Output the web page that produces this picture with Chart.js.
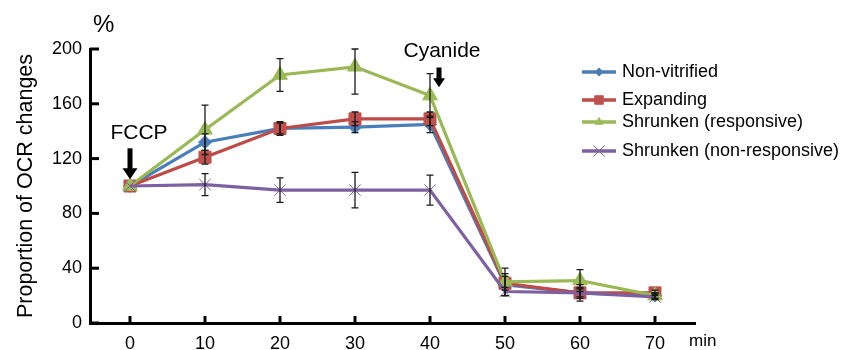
<!DOCTYPE html>
<html>
<head>
<meta charset="utf-8">
<script src="https://cdn.jsdelivr.net/npm/chart.js@4.4.1/dist/chart.umd.min.js"></script>
<style>
  html, body { margin: 0; padding: 0; background: #fff; }
  #wrap { width: 844px; height: 350px; }
</style>
</head>
<body>
<div id="wrap"><canvas id="c" width="844" height="350"></canvas></div>
<script>
// data
const minutes = [0, 10, 20, 30, 40, 50, 60, 70];
const xTicks = [0, 10, 20, 30, 40, 50, 60, 70];
const yTicks = [0, 40, 80, 120, 160, 200];

const nonVitrified    = [100, 132, 142, 143, 145, 28, 22, 20];
const expanding       = [100, 121, 142, 149, 149, 29, 22, 22];
const shrunkenResp    = [100, 141, 181, 187, 166, 30, 31, 20];
const shrunkenNonResp = [100, 101, 97, 97, 97, 23, 22, 19];

const errNonVitrified    = [0, 6, 5, 4, 6, 8, 4, 2];
const errExpanding       = [0, 5, 4, 5, 5, 5, 6, 2];
const errShrunkenResp    = [0, 18, 12, 20, 16, 10, 8, 2];
const errShrunkenNonResp = [0, 8, 9, 13, 11, 3, 3, 2];

const FONT = '"Liberation Sans", Arial, Helvetica, sans-serif';

const xy = (vals) => vals.map((v, i) => ({ x: minutes[i], y: v }));

const inwardTicks = {
  id: 'inwardTicks',
  afterDraw(chart) {
    const { ctx, scales: { x, y }, chartArea } = chart;
    ctx.save();
    ctx.strokeStyle = '#000';
    ctx.lineWidth = 3;
    yTicks.forEach(v => {
      const py = y.getPixelForValue(v);
      ctx.beginPath(); ctx.moveTo(chartArea.left, py); ctx.lineTo(chartArea.left + 9, py); ctx.stroke();
    });
    xTicks.forEach(v => {
      const px = x.getPixelForValue(v);
      ctx.beginPath(); ctx.moveTo(px, chartArea.bottom - 7); ctx.lineTo(px, chartArea.bottom + 2); ctx.stroke();
    });
    ctx.fillStyle = '#000';
    ctx.font = '24px ' + FONT;
    ctx.textBaseline = 'middle';
    ctx.textAlign = 'left';
    ctx.fillText('%', 93, 25);
    ctx.font = '17px ' + FONT;
    ctx.fillText('min', 689, 341);
    ctx.restore();
  }
};

const errorBars = {
  id: 'errorBars',
  afterDatasetsDraw(chart) {
    const { ctx, scales: { x, y }, chartArea } = chart;
    ctx.save();
    ctx.strokeStyle = '#1a1a1a';
    ctx.lineWidth = 1.3;
    chart.data.datasets.forEach(ds => {
      ds.data.forEach((p, i) => {
        const e = ds.errors[i];
        if (!e) return;
        const px = x.getPixelForValue(p.x);
        const top = Math.max(y.getPixelForValue(p.y + e), chartArea.top);
        const bot = y.getPixelForValue(p.y - e);
        ctx.beginPath();
        ctx.moveTo(px, top); ctx.lineTo(px, bot);
        ctx.moveTo(px - 3.5, top); ctx.lineTo(px + 3.5, top);
        ctx.moveTo(px - 3.5, bot); ctx.lineTo(px + 3.5, bot);
        ctx.stroke();
      });
    });
    ctx.restore();
  }
};

function arrow(ctx, x, y0, y1, w, headH) {
  ctx.fillRect(x - 2.5, y0, 5, y1 - y0 - headH + 1);
  ctx.beginPath();
  ctx.moveTo(x - w / 2, y1 - headH);
  ctx.lineTo(x + w / 2, y1 - headH);
  ctx.lineTo(x, y1);
  ctx.closePath();
  ctx.fill();
}

const notes = {
  id: 'notes',
  afterDraw(chart) {
    const { ctx, scales: { x, y } } = chart;
    ctx.save();
    ctx.fillStyle = '#000';
    ctx.font = '21px ' + FONT;
    ctx.textAlign = 'center';
    ctx.textBaseline = 'alphabetic';
    ctx.fillText('FCCP', x.getPixelForValue(1.2), y.getPixelForValue(134));
    arrow(ctx, x.getPixelForValue(0), y.getPixelForValue(127.5), y.getPixelForValue(105), 15, 11);
    ctx.fillText('Cyanide', x.getPixelForValue(41.6), y.getPixelForValue(194));
    arrow(ctx, x.getPixelForValue(41.2), y.getPixelForValue(186.5), y.getPixelForValue(172), 12, 9);
    ctx.restore();
  }
};

const legendBox = {
  id: 'legendBox',
  afterDraw(chart) {
    const { ctx } = chart;
    const rows = [72, 100, 122, 151];
    ctx.save();
    ctx.font = '18px ' + FONT;
    ctx.textBaseline = 'middle';
    ctx.textAlign = 'left';
    chart.data.datasets.forEach((ds, i) => {
      const yy = rows[i];
      ctx.strokeStyle = ds.borderColor;
      ctx.lineWidth = 3.5;
      ctx.beginPath(); ctx.moveTo(582, yy); ctx.lineTo(616, yy); ctx.stroke();
      ctx.fillStyle = ds.pointBackgroundColor;
      ctx.strokeStyle = ds.pointBorderColor;
      ctx.lineWidth = 1;
      Chart.helpers.drawPoint(ctx, { pointStyle: ds.pointStyle, radius: ds.legendRadius, rotation: 0, borderWidth: 1 }, 599, yy);
      ctx.fillStyle = '#000';
      ctx.fillText(ds.label, 622, yy);
    });
    ctx.restore();
  }
};

new Chart(document.getElementById('c'), {
  type: 'line',
  data: {
    datasets: [
      { label: 'Non-vitrified', data: xy(nonVitrified), errors: errNonVitrified,
        borderColor: '#4a7ebb', pointBackgroundColor: '#4a7ebb', pointBorderColor: '#4a7ebb',
        pointStyle: 'rectRot', pointRadius: 6.5, legendRadius: 4, pointBorderWidth: 1, order: 4 },
      { label: 'Expanding', data: xy(expanding), errors: errExpanding,
        borderColor: '#be4b48', pointBackgroundColor: '#c0504d', pointBorderColor: '#c0504d',
        pointStyle: 'rect', pointRadius: 8.5, legendRadius: 6, pointBorderWidth: 1, order: 3 },
      { label: 'Shrunken (responsive)', data: xy(shrunkenResp), errors: errShrunkenResp,
        borderColor: '#98b954', pointBackgroundColor: '#9bbb59', pointBorderColor: '#9bbb59',
        pointStyle: 'triangle', pointRadius: 8.5, legendRadius: 4.5, pointBorderWidth: 1, order: 2 },
      { label: 'Shrunken (non-responsive)', data: xy(shrunkenNonResp), errors: errShrunkenNonResp,
        borderColor: '#7d60a0', pointBackgroundColor: '#7d60a0', pointBorderColor: '#7d60a0',
        pointStyle: 'crossRot', pointRadius: 8, legendRadius: 8, pointBorderWidth: 1, order: 1 }
    ]
  },
  options: {
    responsive: false,
    animation: false,
    layout: { padding: { top: 49, right: 149, left: 0, bottom: 0 } },
    elements: { line: { borderWidth: 3.2, tension: 0 } },
    plugins: { legend: { display: false }, tooltip: { enabled: false } },
    scales: {
      x: {
        type: 'linear', min: -16 / 3, max: 226 / 3,
        afterBuildTicks: s => { s.ticks = xTicks.map(v => ({ value: v })); },
        afterFit: s => { s.height = 27; },
        grid: { display: false, drawTicks: false },
        border: { display: true, color: '#000', width: 3 },
        ticks: { padding: 10, color: '#000', font: { family: FONT, size: 18 } }
      },
      y: {
        min: 0, max: 200,
        afterBuildTicks: s => { s.ticks = yTicks.map(v => ({ value: v })); },
        afterFit: s => { s.width = 90; },
        grid: { display: false, drawTicks: false },
        border: { display: true, color: '#000', width: 3 },
        ticks: { padding: 8, color: '#000', font: { family: FONT, size: 18 } },
        title: { display: true, text: 'Proportion of OCR changes', color: '#000',
                 font: { family: FONT, size: 21.5 }, padding: { top: 13, bottom: 0 } }
      }
    }
  },
  plugins: [errorBars, inwardTicks, notes, legendBox]
});
</script>
</body>
</html>
